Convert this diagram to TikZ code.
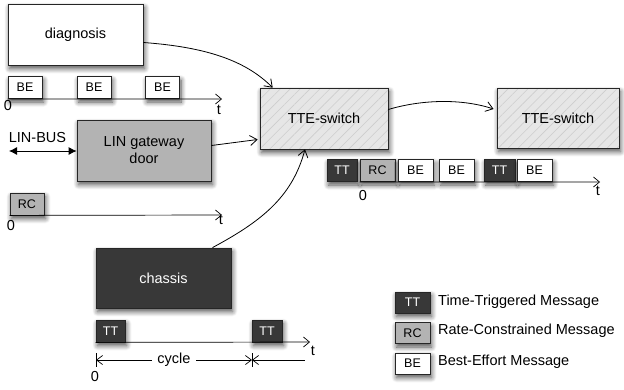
\documentclass[tikz,border=0pt]{standalone}
\usepackage{fontspec}
\setmainfont{Liberation Sans}
\usetikzlibrary{arrows.meta,shadows.blur,patterns.meta}

\definecolor{ttfill}{HTML}{383838}
\definecolor{rcfill}{HTML}{B3B3B3}
\definecolor{swfill}{HTML}{E6E6E6}
\definecolor{swhatch}{HTML}{CDCDCD}

\tikzset{
  shade box/.style={blur shadow={shadow xshift=1.5pt, shadow yshift=-3.5pt, shadow blur radius=5pt, shadow blur steps=8, shadow opacity=70}},
  unit/.style={draw=black!85, line width=0.8pt, minimum width=135pt, minimum height=61pt, inner sep=0pt,
    align=center, font=\fontsize{14.5}{17}\selectfont, shade box},
  switch/.style={unit, minimum width=128pt, preaction={fill=swfill},
    pattern={Lines[angle=45,distance=7pt,line width=0.6pt]}, pattern color=swhatch},
  msg/.style={draw=black!85, line width=0.8pt, fill=white, minimum width=34pt, minimum height=22pt, inner sep=0pt,
    font=\fontsize{12.5}{14}\selectfont, shade box},
  tt/.style={msg, fill=ttfill, text=white, minimum width=30pt},
  rc/.style={msg, fill=rcfill},
  be/.style={msg},
  lbl/.style={font=\fontsize{14.5}{17}\selectfont, inner sep=0pt},
  axis/.style={-{Straight Barb[length=6pt,width=10pt]}, line width=0.7pt},
  link/.style={-{Straight Barb[length=7pt,width=10pt]}, line width=0.8pt},
}

\begin{document}
\begin{tikzpicture}[x=1pt, y=-1pt]
  \useasboundingbox (0,0) rectangle (624,389);

  \node[unit, fill=white] (diag) at (75.5,34.5) {diagnosis};
  \node[unit, fill=rcfill, minimum width=134pt] (lin) at (144,150.5) {LIN gateway\\door};
  \node[unit, fill=ttfill, text=white, minimum height=60pt] (chassis) at (163.5,278) {chassis};
  \node[switch] (sw1) at (324,118.5) {TTE-switch};
  \node[switch, minimum width=122pt, minimum height=60pt] (sw2) at (558,118) {TTE-switch};

  % diagnosis stream
  \node[be] (be1) at (25,87.5) {BE};
  \node[be] (be2) at (94,87.5) {BE};
  \node[be] (be3) at (162.5,87.5) {BE};
  \coordinate (t1) at (222,99);
  \draw[axis] (be1.south west) -- (t1);
  \node[lbl] at (8,106) {0};
  \node[lbl] at (219,110) {t};

  % LIN-BUS
  \node[lbl] (bus) at (37.5,138) {LIN-BUS};
  \coordinate (busend) at (9,151);
  \draw[{Latex[length=8pt,width=8pt]}-{Latex[length=8pt,width=8pt]}, line width=0.8pt] (busend) -- (lin.west |- busend);

  % rate-constrained stream
  \node[rc] (rc1) at (27,204) {RC};
  \coordinate (t2) at (222,215);
  \draw[axis] (rc1.south west) -- (t2);
  \node[lbl] at (11,226) {0};
  \node[lbl] at (221,220) {t};

  % chassis stream
  \node[tt, minimum width=29pt] (tc1) at (110.5,331) {TT};
  \node[tt] (tc2) at (267,331) {TT};
  \coordinate (t3) at (310,342);
  \draw[axis] (tc1.south west) -- (t3);
  \node[lbl] at (313,351) {t};
  \coordinate (c0) at (96,360);
  \coordinate (c1) at (252,360);
  \coordinate (c2) at (305,360);
  \draw[line width=0.7pt] (c0) ++(0,-7) -- ++(0,14) (c1) ++(0,-7) -- ++(0,14);
  \draw[{Straight Barb[length=6pt,width=9pt]}-{Straight Barb[length=6pt,width=9pt]}, line width=0.7pt] (c0) -- (c1)
    node[midway, fill=white, lbl, inner xsep=5pt] {cycle};
  \draw[{Straight Barb[length=6pt,width=9pt]}-, line width=0.7pt] (c1) -- (c2);
  \node[lbl] at (95,377) {0};

  % switch output
  \node[tt] (m1) at (342,170.5) {TT};
  \node[rc, minimum width=35pt] (m2) at (377.5,170.5) {RC};
  \node[be, minimum width=35pt] (m3) at (415.5,170.5) {BE};
  \node[be, minimum width=35pt] (m4) at (456.5,170.5) {BE};
  \node[tt, minimum width=31pt] (m5) at (499.5,170.5) {TT};
  \node[be, minimum width=35pt] (m6) at (534.5,170.5) {BE};
  \coordinate (t4) at (600,182);
  \draw[axis] (m2.south west) -- (t4);
  \node[lbl] at (363,196) {0};
  \node[lbl] at (598,191) {t};

  % links
  \draw[link] (diag.east) ++(0,8) .. controls (205,47) and (245,60) .. ([xshift=13pt]sw1.north west);
  \draw[link] ([yshift=5pt]lin.east) -- ([xshift=-2pt,yshift=-21pt]sw1.west);
  \draw[link] ([xshift=49pt]chassis.north) .. controls (260,222) and (292,198) .. ([xshift=-19pt]sw1.south);
  \draw[link] ([yshift=9pt]sw1.east) .. controls (420,100) and (460,98) .. ([xshift=-3pt,yshift=9pt]sw2.west);

  % legend
  \node[tt, minimum width=35pt, minimum height=21pt] (ltt) at (412.5,302.5) {TT};
  \node[rc, minimum width=35pt, minimum height=21pt] (lrc) at (412.5,333) {RC};
  \node[be, minimum width=35pt, minimum height=21pt] (lbe) at (412.5,363.5) {BE};
  \node[lbl, anchor=west] at (438,302) {Time-Triggered Message};
  \node[lbl, anchor=west] at (438,331) {Rate-Constrained Message};
  \node[lbl, anchor=west] at (438,362) {Best-Effort Message};
\end{tikzpicture}
\end{document}
